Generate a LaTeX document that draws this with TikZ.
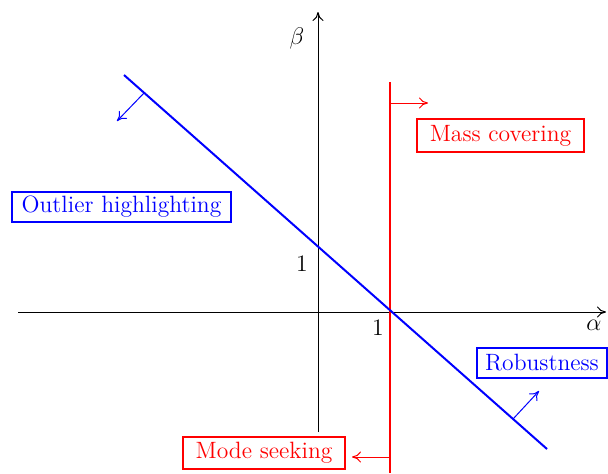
\documentclass[tikz,border=0pt]{standalone}
\usetikzlibrary{arrows.meta}
\begin{document}
\begin{tikzpicture}[x=0.5pt,y=-0.5pt,
  every node/.style={font=\fontsize{11.8}{14}\selectfont},
  axisline/.style={line width=0.5pt,-{To[length=4.5pt,width=5.5pt]}},
  thinarrow/.style={line width=0.5pt,-{To[length=4.5pt,width=5.5pt]}},
  bigline/.style={line width=1pt},
  labelbox/.style={draw,line width=0.8pt,inner sep=0pt,anchor=center}]
\useasboundingbox (0,0) rectangle (608,473);
% axes
\coordinate (xs) at (18,312);
\coordinate (xe) at (606,312);
\coordinate (ys) at (318,432);
\coordinate (ye) at (318,12);
\draw[axisline] (xs) -- (xe);
\draw[axisline] (ys) -- (ye);
\node (beta) at (297,38) {$\beta$};
\node (alpha) at (594,325) {$\alpha$};
\node (one-y) at (302,264) {1};
\node (one-x) at (378,328) {1};
% red line
\coordinate (rt) at (390,82);
\coordinate (rb) at (390,473);
\draw[red,bigline] (rt) -- (rb);
\coordinate (ra1) at (390,103);
\coordinate (ra2) at (428,103);
\draw[red,thinarrow] (ra1) -- (ra2);
\coordinate (rb1) at (390,457);
\coordinate (rb2) at (352,457);
\draw[red,thinarrow] (rb1) -- (rb2);
\node[labelbox,red,minimum width=83.5pt,minimum height=16.5pt] (mass) at (500.5,135.5) {Mass covering};
\node[labelbox,red,minimum width=81pt,minimum height=16pt] (mode) at (264,453) {Mode seeking};
% blue line
\coordinate (bt) at (124,75);
\coordinate (bb) at (547,449);
\draw[blue,bigline] (bt) -- (bb);
\coordinate (ba1) at (144,93);
\coordinate (ba2) at (117,121);
\draw[blue,thinarrow] (ba1) -- (ba2);
\coordinate (bb1) at (513,419);
\coordinate (bb2) at (539,391);
\draw[blue,thinarrow] (bb1) -- (bb2);
\node[labelbox,blue,minimum width=109.5pt,minimum height=15pt] (outlier) at (121.5,207) {Outlier highlighting};
\node[labelbox,blue,minimum width=65pt,minimum height=15pt] (robust) at (542,363) {Robustness};
\end{tikzpicture}
\end{document}
